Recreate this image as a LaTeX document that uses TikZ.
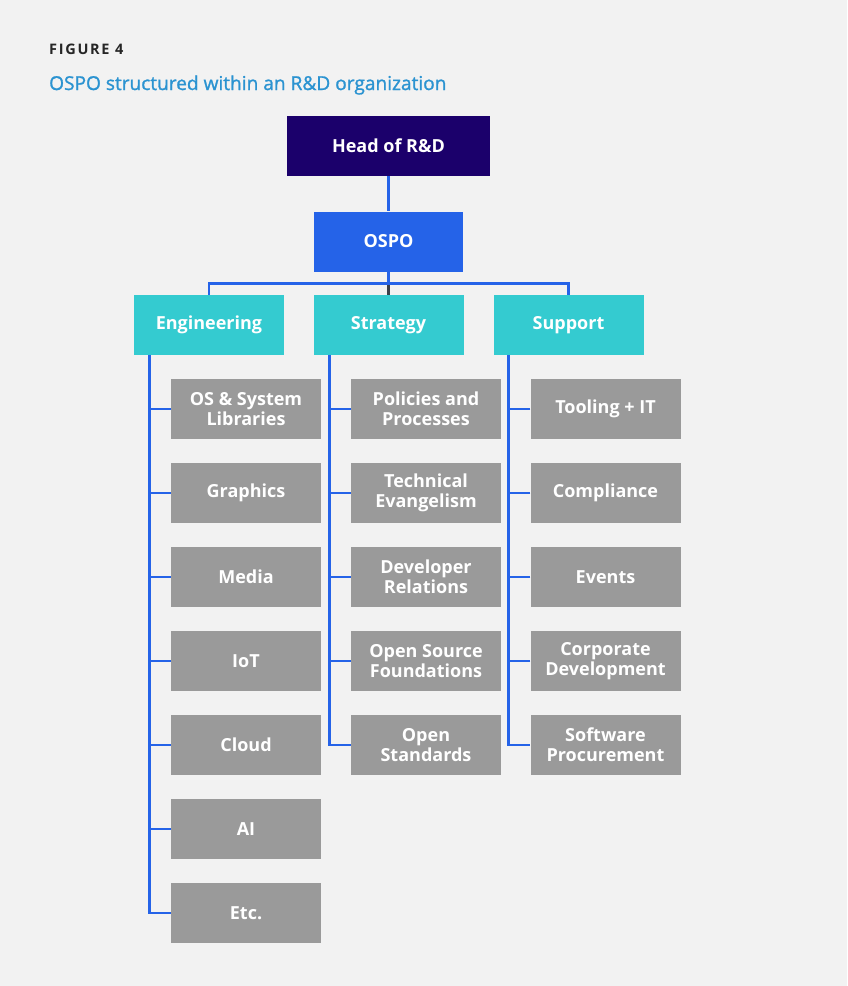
\documentclass[tikz,border=0pt]{standalone}
\usepackage{fontspec}
\setmainfont{Open Sans}
\newfontfamily\titlefont[FakeBold=1.3]{Open Sans}
\usetikzlibrary{calc}
\definecolor{bg}{HTML}{F2F2F2}
\definecolor{headc}{HTML}{1B006B}
\definecolor{ospoc}{HTML}{2563E8}
\definecolor{tealc}{HTML}{34CBD0}
\definecolor{greyc}{HTML}{9A9A9A}
\definecolor{titlec}{HTML}{2B93D1}
\definecolor{figc}{HTML}{262626}
\definecolor{stubc}{HTML}{3A3F4A}
\tikzset{
  box/.style={minimum width=150pt, minimum height=60pt, inner sep=0pt, text=white, align=center,
    font=\fontsize{18}{20}\selectfont\bfseries},
  headbox/.style={box, fill=headc, minimum width=203pt},
  ospobox/.style={box, fill=ospoc, minimum width=149pt},
  deptbox/.style={box, fill=tealc},
  leafbox/.style={box, fill=greyc},
  conn/.style={draw=ospoc, line width=2.6pt, line join=miter},
  stub/.style={draw=stubc, line width=2.6pt},
}
\begin{document}
\begin{tikzpicture}[x=1pt,y=-1pt]
\fill[bg] (0,0) rectangle (847,986);
\useasboundingbox (0,0) rectangle (847,986);
\node[anchor=base west, text=figc, inner sep=0pt, font=\fontsize{14.5}{16}\selectfont\bfseries] (fig) at (49,54) {F\kern1.7pt I\kern1.7pt G\kern1.7pt U\kern1.7pt R\kern1.7pt E\kern1.7pt\ 4};
\node[anchor=base west, text=titlec, inner sep=0pt, font=\fontsize{19.1}{21}\titlefont] (title) at (49,90) {OSPO structured within an R\&D organization};

\node[headbox] (head) at (388.5,146) {Head of R\&D};
\node[ospobox] (ospo) at (388.5,241.5) {OSPO};
\node[deptbox] (eng) at (209,325) {Engineering};
\node[deptbox] (str) at (388.5,325) {Strategy};
\node[deptbox] (sup) at (568.5,325) {Support};

\foreach \n/\t [count=\i] in {e1/{OS \& System\\Libraries}, e2/Graphics, e3/Media, e4/IoT, e5/Cloud, e6/AI, e7/Etc.}
  \node[leafbox] (\n) at (246,{409+84*(\i-1)}) {\t};
\foreach \n/\t [count=\i] in {s1/{Policies and\\Processes}, s2/{Technical\\Evangelism}, s3/{Developer\\Relations}, s4/{Open Source\\Foundations}, s5/{Open\\Standards}}
  \node[leafbox] (\n) at (426,{409+84*(\i-1)}) {\t};
\foreach \n/\t [count=\i] in {p1/Tooling + IT, p2/Compliance, p3/Events, p4/{Corporate\\Development}, p5/{Software\\Procurement}}
  \node[leafbox] (\n) at (605.5,{409+84*(\i-1)}) {\t};

\coordinate (bus) at (388.5,283.7);
\coordinate (ec) at (149.5,355);
\coordinate (sc) at (329.7,355);
\coordinate (pc) at (508.7,355);

\draw[conn] (head.south) -- (ospo.north);
\draw[conn] (ospo.south) -- (bus);
\draw[conn] (eng.north) |- (bus) -| (sup.north);
\draw[stub] (bus) ++(0,1.3) -- (str.north);

\draw[conn] (ec) |- (e7.west);
\foreach \n in {e1,e2,e3,e4,e5,e6} \draw[conn] (\n.west) -- (\n.west -| ec);
\draw[conn] (sc) |- (s5.west);
\foreach \n in {s1,s2,s3,s4} \draw[conn] (\n.west) -- (\n.west -| sc);
\draw[conn] (pc) |- (p5.west);
\foreach \n in {p1,p2,p3,p4} \draw[conn] (\n.west) -- (\n.west -| pc);
\end{tikzpicture}
\end{document}
